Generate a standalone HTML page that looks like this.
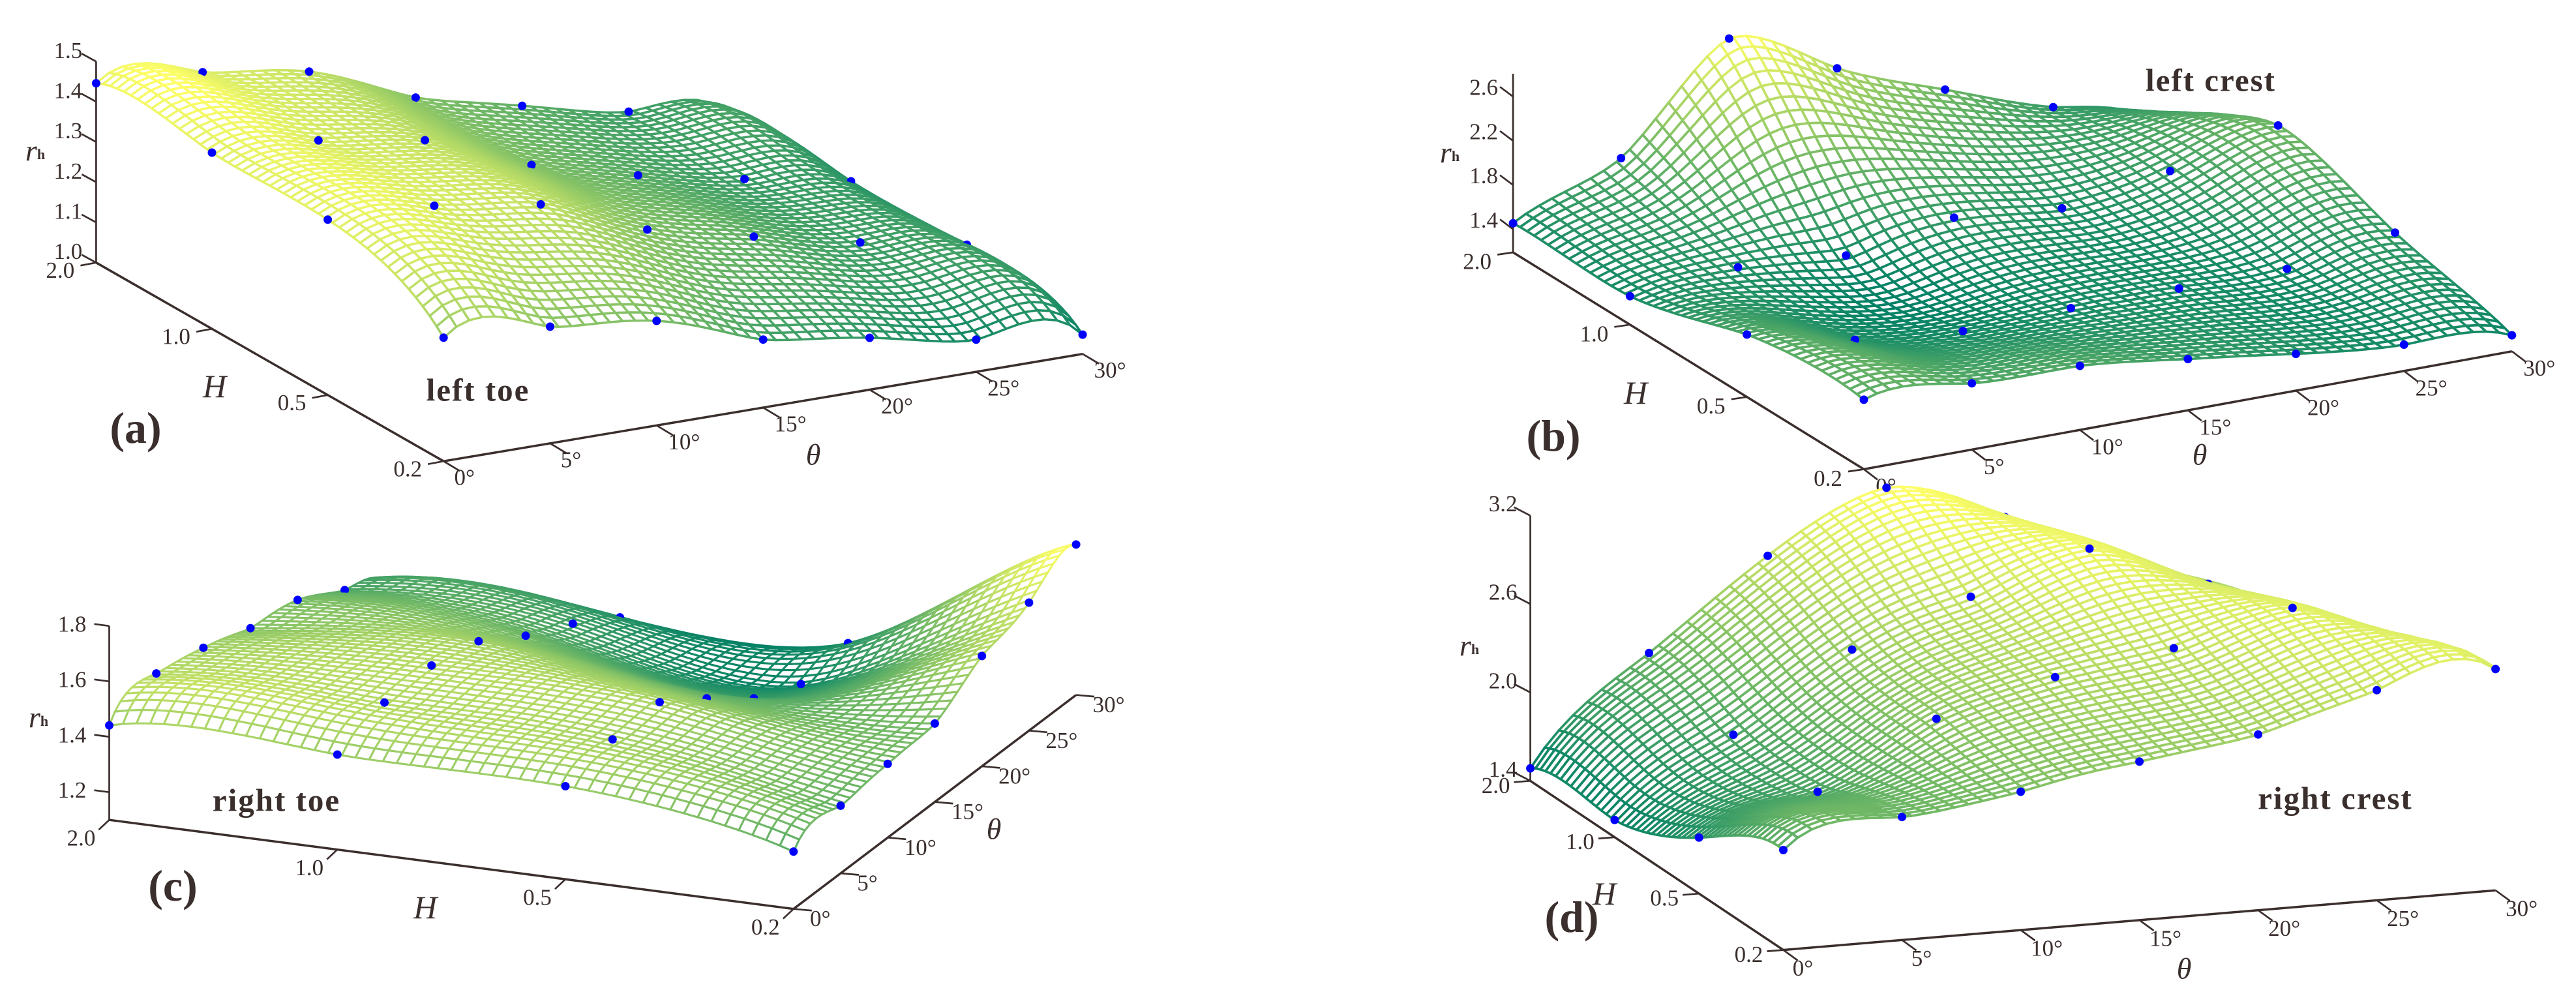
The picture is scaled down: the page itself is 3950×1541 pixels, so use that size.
<!DOCTYPE html>
<html lang="en">
<head>
<meta charset="utf-8">
<title>Surface plots of rh against theta and H</title>
<style>
  html, body { margin: 0; padding: 0; background: #ffffff; }
  svg { display: block; font-family: "Liberation Serif", serif; }
  text { fill: #3a2f2d; }
</style>
</head>
<body>
<svg id="figure" xmlns="http://www.w3.org/2000/svg" width="3950" height="1541" viewBox="0 0 3950 1541"></svg>
<script>
// Shared categories
const thetaValues = [0, 5, 10, 15, 20, 25, 30];
const heightValues = [0.2, 0.5, 1.0, 2.0];

// (a) left toe: rh by theta for each H
const leftToeH02 = [1.307, 1.290, 1.260, 1.169, 1.129, 1.080, 1.048];
const leftToeH05 = [1.436, 1.426, 1.385, 1.278, 1.216, 1.157, 1.107];
const leftToeH10 = [1.438, 1.424, 1.380, 1.274, 1.204, 1.150, 1.100];
const leftToeH20 = [1.446, 1.429, 1.386, 1.277, 1.212, 1.153, 1.093];
const leftToeTicks = [1.0, 1.1, 1.2, 1.3, 1.4, 1.5];

// (b) left crest
const leftCrestH02 = [1.819, 1.790, 1.770, 1.654, 1.523, 1.428, 1.335];
const leftCrestH05 = [1.755, 1.529, 1.431, 1.460, 1.460, 1.460, 1.610];
const leftCrestH10 = [1.448, 1.532, 1.460, 1.625, 1.532, 1.691, 1.926];
const leftCrestH20 = [1.454, 1.865, 2.770, 2.323, 1.952, 1.616, 1.306];
const leftCrestTicks = [1.4, 1.8, 2.2, 2.6];

// (c) right toe
const rightToeH02 = [1.307, 1.344, 1.366, 1.383, 1.498, 1.562, 1.643];
const rightToeH05 = [1.436, 1.476, 1.482, 1.367, 1.238, 1.161, 1.180];
const rightToeH10 = [1.443, 1.502, 1.507, 1.466, 1.357, 1.272, 1.166];
const rightToeH20 = [1.441, 1.500, 1.464, 1.406, 1.379, 1.286, 1.168];
const rightToeTicks = [1.2, 1.4, 1.6, 1.8];

// (d) right crest
const rightCrestH02 = [2.078, 2.235, 2.339, 2.476, 2.593, 2.826, 2.902];
const rightCrestH05 = [1.780, 2.024, 2.452, 2.667, 2.796, 3.002, 2.576];
const rightCrestH10 = [1.517, 2.028, 2.539, 2.830, 3.089, 2.783, 2.367];
const rightCrestH20 = [1.485, 2.200, 2.793, 3.187, 2.920, 2.502, 2.083];
const rightCrestTicks = [1.4, 2.0, 2.6, 3.2];

const panels = [
  { key: 'a', rows: [leftToeH02, leftToeH05, leftToeH10, leftToeH20], ticks: leftToeTicks, meshWidth: 3.5,
    O: [680.2, 707.2], U: [1660.1, 542.7], V: [147.4, 402.7], zBase: 1.0, zTop: 1.5, zScale: 616.8,
    zTick: [-22, -12], zLab: [-43, -17], hTick: [-24, 4.5], hLab: [-55, 12], tTick: [25, 15], tLab: [32, 25], tExtra: 10,
    rh: [54, 230], H: [329, 592], th: [1247, 697], name: ['left toe', 733, 598], tag: ['(a)', 208, 656] },
  { key: 'b', rows: [leftCrestH02, leftCrestH05, leftCrestH10, leftCrestH20], ticks: leftCrestTicks, meshWidth: 3.7,
    O: [2858, 719.5], U: [3851.8, 538.7], V: [2320.1, 387], zBase: 1.19, zTop: 2.807, zScale: 169.4,
    zTick: [-20, -15], zLab: [-45, -14], hTick: [-24, 3.5], hLab: [-55, 14], tTick: [21, 16], tLab: [34, 26], tExtra: 8,
    rh: [2223, 233], H: [2508, 602], th: [3373, 697], name: ['left crest', 3390, 123], tag: ['(b)', 2382, 668] },
  { key: 'c', rows: [rightToeH02, rightToeH05, rightToeH10, rightToeH20], ticks: rightToeTicks, meshWidth: 3.1,
    O: [1216.8, 1393.7], U: [1650.1, 1065.6], V: [167.5, 1257.2], zBase: 1.1, zTop: 1.8, zScale: 424.8,
    zTick: [-23, -3], zLab: [-57, -3], hTick: [-16, 15], hLab: [-43, 28], tTick: [28, 2.5], tLab: [41, 15], tExtra: 9,
    rh: [59, 1099], H: [652, 1391], th: [1524, 1271], name: ['right toe', 424, 1227], tag: ['(c)', 265, 1358] },
  { key: 'd', rows: [rightCrestH02, rightCrestH05, rightCrestH10, rightCrestH20], ticks: rightCrestTicks, meshWidth: 3.7,
    O: [2734.5, 1456.6], U: [3826.6, 1365.2], V: [2346.6, 1197.3], zBase: 1.4, zTop: 3.2, zScale: 225.9,
    zTick: [-25, -13], zLab: [-42, -18], hTick: [-25, 2], hLab: [-53, 7], tTick: [22, 16], tLab: [30, 28], tExtra: 10,
    rh: [2253, 989], H: [2460, 1370], th: [3349, 1485], name: ['right crest', 3581, 1224], tag: ['(d)', 2410, 1406] }
];

const SVGNS = 'http://www.w3.org/2000/svg';
const INK = '#3a2f2d';
const CELLS_THETA = 50;
const CELLS_H = 50;
const figure = document.getElementById('figure');

function shape(tag, attrs) {
  const el = document.createElementNS(SVGNS, tag);
  for (const k in attrs) el.setAttribute(k, attrs[k]);
  return el;
}

// Biharmonic spline through the measured points (same idea as griddata 'v4')
function green(r) { return r < 1e-9 ? 0 : r * r * (Math.log(r) - 1); }

function fitSurface(rows) {
  const pts = [];
  rows.forEach((row, j) => row.forEach((z, i) => pts.push([i, j, z])));
  const n = pts.length;
  const A = pts.map(p => {
    const r = pts.map(q => green(Math.hypot(p[0] - q[0], p[1] - q[1])));
    r.push(p[2]);
    return r;
  });
  for (let c = 0; c < n; c++) {
    let best = c;
    for (let r = c + 1; r < n; r++) if (Math.abs(A[r][c]) > Math.abs(A[best][c])) best = r;
    const tmp = A[c]; A[c] = A[best]; A[best] = tmp;
    for (let r = c + 1; r < n; r++) {
      const f = A[r][c] / A[c][c];
      for (let k = c; k <= n; k++) A[r][k] -= f * A[c][k];
    }
  }
  const w = new Array(n).fill(0);
  for (let r = n - 1; r >= 0; r--) {
    let s = A[r][n];
    for (let k = r + 1; k < n; k++) s -= A[r][k] * w[k];
    w[r] = s / A[r][r];
  }
  return (u, v) => {
    let s = 0;
    for (let k = 0; k < n; k++) s += w[k] * green(Math.hypot(u - pts[k][0], v - pts[k][1]));
    return s;
  };
}

function summer(t) {
  t = Math.max(0, Math.min(1, t));
  const r = Math.round(255 * t);
  const g = Math.round(255 * (0.5 + 0.5 * t));
  return 'rgb(' + r + ',' + g + ',102)';
}

function drawPanel(p) {
  const group = shape('g', {});
  
  
  figure.appendChild(group);

  const lastT = thetaValues.length - 1;
  const lastH = heightValues.length - 1;
  const floorX = (i, j) => p.O[0] + (p.U[0] - p.O[0]) * i / lastT + (p.V[0] - p.O[0]) * j / lastH;
  const floorY = (i, j) => p.O[1] + (p.U[1] - p.O[1]) * i / lastT + (p.V[1] - p.O[1]) * j / lastH;
  const zPix = z => (z - p.zBase) * p.zScale;

  function axisLine(x1, y1, x2, y2, w, name) {
    const l = shape('line', { x1: x1, y1: y1, x2: x2, y2: y2, stroke: INK, 'stroke-width': w });
    
    
    group.appendChild(l);
  }
  function label(str, x, y, size, name, extra) {
    const t = shape('text', Object.assign({ x: x, y: y, 'font-size': size, 'text-anchor': 'middle', 'dominant-baseline': 'central' }, extra || {}));
    t.textContent = str;
    
    
    group.appendChild(t);
    return t;
  }

  // Axes
  const zx = p.V[0], zy = p.V[1];
  axisLine(zx, zy, zx, zy - zPix(p.zTop), 2.7, 'rh-axis');
  axisLine(p.V[0], p.V[1], p.O[0], p.O[1], 3.5, 'h-axis');
  axisLine(p.O[0], p.O[1], p.U[0], p.U[1], 3.5, 'theta-axis');

  p.ticks.forEach(v => {
    const y = zy - zPix(v);
    axisLine(zx, y, zx + p.zTick[0], y + p.zTick[1], 2.7, 'rh-tick');
    label(v.toFixed(1), zx + p.zLab[0], y + p.zLab[1], 35, 'rh-tick-label');
  });
  heightValues.forEach((v, j) => {
    const x = floorX(0, j), y = floorY(0, j);
    axisLine(x, y, x + p.hTick[0], y + p.hTick[1], 2.7, 'h-tick');
    label(v.toFixed(1), x + p.hLab[0], y + p.hLab[1], 35, 'h-tick-label');
  });
  thetaValues.forEach((v, i) => {
    const x = floorX(i, 0), y = floorY(i, 0);
    axisLine(x, y, x + p.tTick[0], y + p.tTick[1], 2.7, 'theta-tick');
    const ox = p.tLab[0] + (v >= 10 ? p.tExtra : 0);
    label(v + '°', x + ox, y + p.tLab[1], 35, 'theta-tick-label');
  });

  // Titles
  const rh = label('', p.rh[0], p.rh[1], 46, 'rh-axis-title');
  const r = shape('tspan', { 'font-style': 'italic' });
  r.textContent = 'r';
  rh.appendChild(r);
  const h = shape('tspan', { 'font-size': 22, 'font-weight': 'bold', dy: 6 });
  h.textContent = 'h';
  rh.appendChild(h);
  label('H', p.H[0], p.H[1], 50, 'h-axis-title', { 'font-style': 'italic' });
  label('θ', p.th[0], p.th[1], 46, 'theta-axis-title', { 'font-style': 'italic' });
  label(p.name[0], p.name[1], p.name[2], 49, 'position-label', { 'font-weight': 'bold', 'letter-spacing': '2px' });
  label(p.tag[0], p.tag[1], p.tag[2], 68, 'panel-tag', { 'font-weight': 'bold' });

  // Surface
  const surface = fitSurface(p.rows);
  const grid = [];
  let zMin = Infinity, zMax = -Infinity;
  for (let b = 0; b <= CELLS_H; b++) {
    const row = [];
    for (let a = 0; a <= CELLS_THETA; a++) {
      const z = surface(a * lastT / CELLS_THETA, b * lastH / CELLS_H);
      row.push(z);
      if (z < zMin) zMin = z;
      if (z > zMax) zMax = z;
    }
    grid.push(row);
  }
  const items = [];
  const corner = (a, b) => {
    const i = a * lastT / CELLS_THETA, j = b * lastH / CELLS_H;
    return floorX(i, j).toFixed(1) + ',' + (floorY(i, j) - zPix(grid[b][a])).toFixed(1);
  };
  for (let b = 0; b < CELLS_H; b++) {
    for (let a = 0; a < CELLS_THETA; a++) {
      const mean = (grid[b][a] + grid[b][a + 1] + grid[b + 1][a] + grid[b + 1][a + 1]) / 4;
      items.push({
        key: floorY((a + 0.5) * lastT / CELLS_THETA, (b + 0.5) * lastH / CELLS_H),
        points: [corner(a, b), corner(a + 1, b), corner(a + 1, b + 1), corner(a, b + 1)].join(' '),
        color: summer((mean - zMin) / (zMax - zMin))
      });
    }
  }
  const nudge = 2.0 * (Math.abs(p.U[1] - p.O[1]) / CELLS_THETA + Math.abs(p.V[1] - p.O[1]) / CELLS_H);
  p.rows.forEach((row, j) => row.forEach((z, i) => {
    items.push({ key: floorY(i, j) + nudge, cx: floorX(i, j), cy: floorY(i, j) - zPix(z) });
  }));
  items.sort((m, n) => n.key < m.key ? 1 : (n.key > m.key ? -1 : 0));

  const meshGroup = shape('g', { 'stroke-width': p.meshWidth, 'stroke-linejoin': 'round', fill: '#ffffff' });
  
  
  items.forEach(item => {
    if (item.points) {
      const q = shape('polygon', { points: item.points, stroke: item.color });
      
      
      meshGroup.appendChild(q);
    } else {
      const c = shape('circle', { cx: item.cx.toFixed(1), cy: item.cy.toFixed(1), r: 6.5, fill: '#0000ff', stroke: 'none' });
      
      
      meshGroup.appendChild(c);
    }
  });
  group.appendChild(meshGroup);
}

panels.forEach(drawPanel);
</script>
</body>
</html>
